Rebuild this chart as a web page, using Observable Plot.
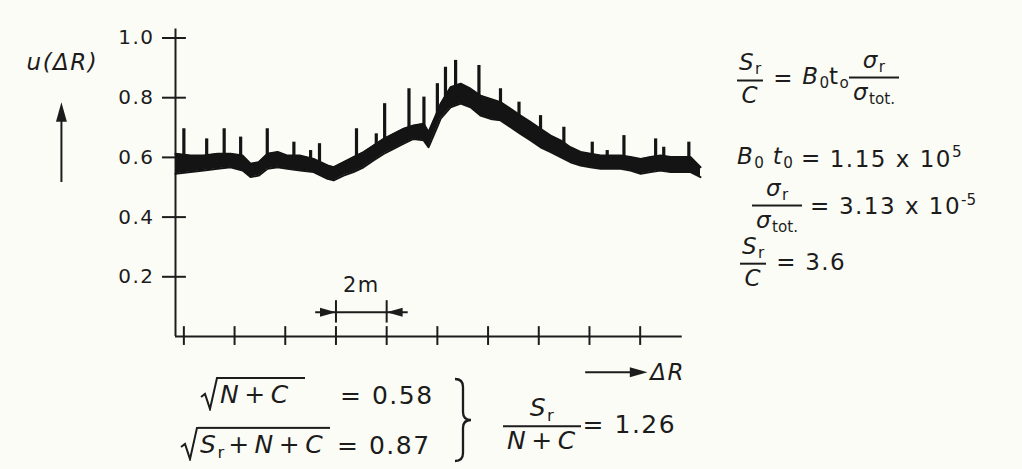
<!DOCTYPE html>
<html><head><meta charset="utf-8">
<script src="https://cdn.jsdelivr.net/npm/d3@7"></script>
<script src="https://cdn.jsdelivr.net/npm/@observablehq/plot@0.6"></script>
<style>
body{margin:0;background:#fcfcf6;}
#wrap{position:relative;width:1022px;height:469px;overflow:hidden;font-family:"DejaVu Sans",sans-serif;color:#1c1c1c;background:#fcfcf6;}
#chart{position:absolute;left:0;top:0;}
#chart svg text{letter-spacing:1.5px;}
.f{position:absolute;transform:translateY(-50%);display:flex;align-items:center;white-space:nowrap;line-height:1.05;}
.r{font-size:23px;letter-spacing:1.5px;}
.b{font-size:25px;letter-spacing:1.5px;}
.frac{display:inline-flex;flex-direction:column;align-items:center;}
.frac>span{padding:1px 4px;}
.frac>span+span{border-top:2px solid #1c1c1c;}
.op{margin:0 8px;}
sub{font-size:0.66em;vertical-align:-0.3em;letter-spacing:0;}
sup{font-size:0.66em;vertical-align:0.65em;letter-spacing:0;}
.rad{display:inline-flex;align-items:stretch;}
.rad svg{width:18px;flex:none;}
.ov{border-top:2px solid #1c1c1c;padding:3px 6px 0 2px;}
</style>
</head><body>
<div id="wrap">
<div id="chart"></div>

<div class="f r" style="left:735px;top:78px">
  <span class="frac"><span><i>S</i><sub>r</sub></span><span><i>C</i></span></span>
  <span class="op">=</span>
  <span><i>B</i><sub>0</sub>t<sub>o</sub></span>
  <span class="frac"><span><i>σ</i><sub>r</sub></span><span><i>σ</i><sub>tot.</sub></span></span>
</div>
<div class="f r" style="left:737px;top:158px">
  <span><i>B</i><sub>0</sub> <i>t</i><sub>0</sub></span><span class="op">=</span><span>1.15 x 10<sup>5</sup></span>
</div>
<div class="f r" style="left:752px;top:206px">
  <span class="frac"><span><i>σ</i><sub>r</sub></span><span><i>σ</i><sub>tot.</sub></span></span>
  <span class="op">=</span><span>3.13 x 10<sup>-5</sup></span>
</div>
<div class="f r" style="left:738px;top:262px">
  <span class="frac"><span><i>S</i><sub>r</sub></span><span><i>C</i></span></span>
  <span class="op">=</span><span>3.6</span>
</div>

<div class="f b" style="left:200px;top:394px">
  <span class="rad"><svg viewBox="0 0 18 34" preserveAspectRatio="none"><path d="M1 20 L5 17 L10 32 L17 1 L18 1" fill="none" stroke="#1c1c1c" stroke-width="2"/></svg><span class="ov"><i>N</i>&#8202;+&#8202;<i>C</i>&nbsp;</span></span>
</div>
<div class="f b" style="left:340px;top:396px"><span>= 0.58</span></div>
<div class="f b" style="left:180px;top:444px">
  <span class="rad"><svg viewBox="0 0 18 34" preserveAspectRatio="none"><path d="M1 20 L5 17 L10 32 L17 1 L18 1" fill="none" stroke="#1c1c1c" stroke-width="2"/></svg><span class="ov"><i>S</i><sub>r</sub>&#8202;+&#8202;<i>N</i>&#8202;+&#8202;<i>C</i></span></span>
</div>
<div class="f b" style="left:337px;top:446px"><span>= 0.87</span></div>
<svg style="position:absolute;left:452px;top:376px" width="24" height="88" viewBox="0 0 24 88"><path d="M3 3 Q11 3 11 11 L11 36 Q11 44 19 44 Q11 44 11 52 L11 77 Q11 85 3 85" fill="none" stroke="#1c1c1c" stroke-width="2.3"/></svg>
<div class="f b" style="left:503px;top:425px">
  <span class="frac"><span><i>S</i><sub>r</sub></span><span><i>N</i>&#8202;+&#8202;<i>C</i></span></span>
  <span style="margin-left:2px">= 1.26</span>
</div>
</div>

<script>
// ---- data ----
const yTicks = [0.2, 0.4, 0.6, 0.8, 1.0];
const xTicks = [0, 2, 4, 6, 8, 10, 12, 14, 16, 18]; // metres (one tick = 2 m)

// noise band of the recorded trace u(ΔR): position (m), lower and upper edge
const bandX = [-0.33,0.26,0.78,1.33,1.84,2.32,2.63,2.95,3.30,3.70,4.09,4.60,5.12,5.67,5.91,6.30,6.69,7.09,7.48,7.88,8.27,8.67,9.06,9.46,9.65,10.01,10.13,10.52,10.92,11.31,11.70,12.10,12.49,12.89,13.28,13.68,14.07,14.47,14.86,15.25,15.65,16.04,16.44,16.83,17.23,17.62,18.02,18.41,18.80,19.20,19.59,19.99,20.38];
const bandHigh = [0.612,0.606,0.606,0.612,0.612,0.606,0.579,0.584,0.612,0.618,0.606,0.606,0.595,0.573,0.567,0.584,0.601,0.618,0.640,0.662,0.679,0.696,0.707,0.713,0.685,0.755,0.780,0.835,0.847,0.830,0.807,0.796,0.785,0.763,0.740,0.718,0.696,0.673,0.657,0.634,0.618,0.612,0.606,0.606,0.606,0.601,0.595,0.601,0.606,0.601,0.601,0.601,0.567];
const bandLow = [0.545,0.551,0.556,0.562,0.567,0.556,0.534,0.539,0.562,0.567,0.562,0.556,0.551,0.528,0.523,0.539,0.551,0.567,0.590,0.612,0.629,0.646,0.662,0.657,0.634,0.705,0.730,0.768,0.780,0.768,0.740,0.729,0.724,0.701,0.679,0.657,0.634,0.618,0.601,0.584,0.573,0.567,0.562,0.562,0.562,0.556,0.545,0.551,0.556,0.551,0.551,0.551,0.534];

// sharp peaks on the trace
const spikeX = [0.00,0.90,1.59,2.24,3.29,4.34,5.00,5.35,6.81,7.59,7.92,8.88,9.47,10.00,10.32,10.72,11.64,12.49,13.22,14.07,14.99,16.11,16.70,17.36,18.61,18.93,19.92];
const spikeBase = [0.58,0.58,0.59,0.58,0.59,0.585,0.575,0.565,0.59,0.63,0.645,0.68,0.685,0.73,0.77,0.80,0.78,0.755,0.72,0.665,0.63,0.59,0.585,0.585,0.58,0.58,0.575];
const spikeTop = [0.696,0.662,0.696,0.668,0.696,0.651,0.623,0.646,0.696,0.679,0.780,0.830,0.802,0.847,0.902,0.925,0.908,0.830,0.785,0.740,0.701,0.651,0.623,0.673,0.662,0.634,0.651];

// scale bar "2m" between two ticks
const scaleBar = {from: 6, to: 8, label: "2m"};
const xLabel = "ΔR";
const yLabel = "u(ΔR)";

// ---- build ----
const band = bandX.map((x, i) => ({x, low: bandLow[i], high: bandHigh[i]}));
const spikes = spikeX.map((x, i) => ({x, base: spikeBase[i], top: spikeTop[i]}));

const head = dir => ({
  draw(ctx, size) {
    const l = Math.sqrt(size), w = l * 0.28;
    if (dir === "right") { ctx.moveTo(0, 0); ctx.lineTo(-l, -w); ctx.lineTo(-l, w); }
    if (dir === "left")  { ctx.moveTo(0, 0); ctx.lineTo(l, -w); ctx.lineTo(l, w); }
    if (dir === "up")    { ctx.moveTo(0, 0); ctx.lineTo(-w, l); ctx.lineTo(w, l); }
    ctx.closePath();
  }
});

const ink = "#1c1c1c";
const xMin = -0.33, xMax = 20.38, axisEnd = 19.66;

const chart = Plot.plot({
  width: 1022, height: 469,
  marginLeft: 175, marginRight: 322, marginTop: 37.5, marginBottom: 133,
  x: {domain: [xMin, xMax], axis: null},
  y: {domain: [0, 1], axis: null},
  style: {background: "transparent", color: ink, fontFamily: "'DejaVu Sans', sans-serif", overflow: "visible"},
  marks: [
    // axes
    Plot.ruleX([xMin], {y1: 0, y2: 1.03, stroke: ink, strokeWidth: 2}),
    Plot.ruleY([0], {x1: xMin, x2: axisEnd, stroke: ink, strokeWidth: 2}),
    Plot.axisY({ticks: yTicks, tickSize: 13, tickPadding: 8, tickFormat: d => d.toFixed(1), fontSize: 20, strokeWidth: 2}),
    Plot.ruleY(yTicks, {x1: xMin, x2: 0.10, stroke: ink, strokeWidth: 2}),
    Plot.ruleX(xTicks, {y1: -0.03, y2: 0.033, stroke: ink, strokeWidth: 2}),
    // trace
    Plot.areaY(band, {x: "x", y1: "low", y2: "high", fill: "#141414", curve: "linear"}),
    Plot.line(band, {x: "x", y: "high", stroke: "#141414", strokeWidth: 2}),
    Plot.line(band, {x: "x", y: "low", stroke: "#141414", strokeWidth: 2}),
    Plot.ruleX(spikes, {x: "x", y1: "base", y2: "top", stroke: "#141414", strokeWidth: 3.2}),
    // 2 m scale bar
    Plot.ruleY([0.081], {x1: scaleBar.from - 0.8, x2: scaleBar.to + 0.85, stroke: ink, strokeWidth: 2}),
    Plot.ruleX([scaleBar.from, scaleBar.to], {y1: 0.045, y2: 0.12, stroke: ink, strokeWidth: 2}),
    Plot.dot([scaleBar.from], {x: d => d, y: 0.081, symbol: head("right"), r: 9, fill: ink, stroke: null}),
    Plot.dot([scaleBar.to], {x: d => d, y: 0.081, symbol: head("left"), r: 9, fill: ink, stroke: null}),
    Plot.text([scaleBar.label], {x: (scaleBar.from + scaleBar.to) / 2, y: 0.171, text: d => d, fontSize: 21}),
    // ΔR arrow
    Plot.ruleY([-0.12], {x1: 15.85, x2: 18.0, stroke: ink, strokeWidth: 2}),
    Plot.dot([18.29], {x: d => d, y: -0.12, symbol: head("right"), r: 10, fill: ink, stroke: null}),
    Plot.text([xLabel], {x: 18.4, y: -0.12, text: d => d, textAnchor: "start", fontSize: 23, fontStyle: "italic"}),
    // y label and arrow
    Plot.text([yLabel], {x: -4.79, y: 0.916, text: d => d, fontSize: 23, fontStyle: "italic"}),
    Plot.ruleX([-4.83], {y1: 0.516, y2: 0.74, stroke: ink, strokeWidth: 2}),
    Plot.dot([-4.83], {x: d => d, y: 0.785, symbol: head("up"), r: 11, fill: ink, stroke: null})
  ]
});
document.getElementById("chart").appendChild(chart);
</script>
</body></html>
